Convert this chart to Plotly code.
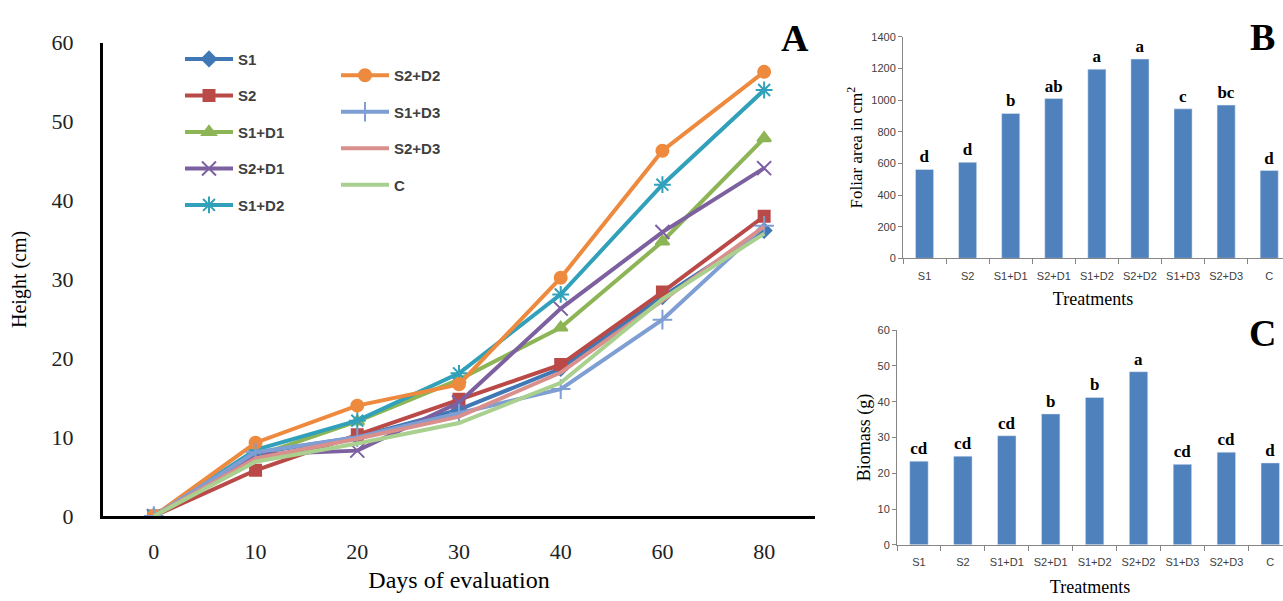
import plotly.graph_objects as go

W, H = 1283, 601

# ---------- Panel A data ----------
days = ["0", "10", "20", "30", "40", "60", "80"]
h_S1   = [0, 8.0, 10.0, 13.5, 18.7, 27.8, 36.2]
h_S2   = [0, 5.8, 10.3, 14.8, 19.2, 28.4, 38.0]
h_S1D1 = [0, 7.6, 12.0, 17.3, 23.9, 34.8, 47.9]
h_S2D1 = [0, 7.8, 8.3, 14.4, 26.3, 36.0, 44.1]
h_S1D2 = [0, 8.4, 12.1, 18.1, 28.1, 42.0, 54.0]
h_S2D2 = [0, 9.3, 14.0, 16.7, 30.2, 46.3, 56.3]
h_S1D3 = [0, 8.1, 10.0, 13.0, 16.1, 24.9, 36.8]
h_S2D3 = [0, 7.3, 9.8, 12.6, 18.2, 27.3, 36.7]
h_C    = [0, 6.9, 9.2, 11.8, 16.9, 27.5, 35.8]

# ---------- Panel B / C data ----------
treatments = ["S1", "S2", "S1+D1", "S2+D1", "S1+D2", "S2+D2", "S1+D3", "S2+D3", "C"]
foliar = [562, 607, 916, 1010, 1196, 1260, 945, 969, 555]
foliar_letters = ["d", "d", "b", "ab", "a", "a", "c", "bc", "d"]
biomass = [23.4, 24.8, 30.5, 36.6, 41.2, 48.4, 22.5, 25.9, 22.9]
biomass_letters = ["cd", "cd", "cd", "b", "b", "a", "cd", "cd", "d"]

def px(x):
    return x / W

def py(y):
    return 1 - y / H

series = [
    ("S1", h_S1, "#3F78B5", "diamond", 11, "legend"),
    ("S2", h_S2, "#B94A48", "square", 11, "legend"),
    ("S1+D1", h_S1D1, "#8DB555", "triangle-up", 12, "legend"),
    ("S2+D1", h_S2D1, "#7D60A0", "x-thin-open", 14, "legend"),
    ("S1+D2", h_S1D2, "#31A0BA", "asterisk-open", 14, "legend"),
    ("S2+D2", h_S2D2, "#EE8A3E", "circle", 12, "legend2"),
    ("S1+D3", h_S1D3, "#7E9ED4", "cross-thin-open", 14, "legend2"),
    ("S2+D3", h_S2D3, "#D9908C", None, 0, "legend2"),
    ("C", h_C, "#A9D08E", None, 0, "legend2"),
]

fig = go.Figure()
for name, vals, col, sym, size, leg in series:
    if sym is None:
        mode = "lines"
        marker = None
    else:
        mode = "lines+markers"
        marker = dict(symbol=sym, size=size, color=col, line=dict(color=col, width=2))
    fig.add_trace(go.Scatter(
        x=days, y=vals, name=name, mode=mode, marker=marker,
        line=dict(color=col, width=4), legend=leg, legendgroup=name,
        xaxis="x", yaxis="y",
    ))

bar_color = "#4F81BD"
letter_font = dict(family="Liberation Serif", size=17, color="black", weight="bold")
fig.add_trace(go.Bar(
    x=treatments, y=foliar, text=foliar_letters, textposition="outside",
    textfont=letter_font, constraintext="none", cliponaxis=False,
    marker=dict(color=bar_color), showlegend=False, xaxis="x2", yaxis="y2",
))
fig.add_trace(go.Bar(
    x=treatments, y=biomass, text=biomass_letters, textposition="outside",
    textfont=letter_font, constraintext="none", cliponaxis=False,
    marker=dict(color=bar_color), showlegend=False, xaxis="x3", yaxis="y3",
))

serif = "Liberation Serif"
sans = "Liberation Sans"
small_tick = dict(family=sans, size=11, color="#404040")

legend_common = dict(
    xanchor="left", yanchor="top", bgcolor="rgba(0,0,0,0)",
    font=dict(family=sans, size=15, color="#404040", weight="bold"),
    tracegroupgap=14, traceorder="grouped", itemwidth=48,
)

fig.update_layout(
    width=W, height=H, margin=dict(l=0, r=0, t=0, b=0),
    paper_bgcolor="white", plot_bgcolor="white",
    bargap=0.58,
    legend=dict(x=px(180), y=py(32), **legend_common),
    legend2=dict(x=px(336), y=py(49), **legend_common),
    xaxis=dict(
        domain=[px(103), px(815)], anchor="y", type="category", range=[-0.5, 6.5],
        showline=True, linecolor="black", linewidth=2.5, showgrid=False, zeroline=False,
        ticks="outside", ticklen=14, tickcolor="rgba(0,0,0,0)",
        tickfont=dict(family=serif, size=22, color="#222222"),
        title=dict(text="Days of evaluation", font=dict(family=serif, size=24, color="black"), standoff=8),
    ),
    yaxis=dict(
        domain=[py(526), py(32)], anchor="x", range=[0, 60], dtick=10,
        showline=True, linecolor="black", linewidth=3, showgrid=False, zeroline=False,
        ticks="outside", ticklen=22, tickcolor="rgba(0,0,0,0)",
        tickfont=dict(family=serif, size=22, color="#222222"),
        title=dict(text="Height (cm)", font=dict(family=serif, size=20, color="black"), standoff=20),
    ),
    xaxis2=dict(
        domain=[px(903), 1], anchor="y2", type="category", range=[-0.5, 8.32],
        showline=True, linecolor="#868686", linewidth=1, showgrid=False,
        ticks="outside", tickson="boundaries", ticklen=5, tickcolor="#868686",
        ticklabelstandoff=7, tickfont=small_tick,
        title=dict(text="Treatments", font=dict(family=serif, size=18, color="black"), standoff=11),
    ),
    yaxis2=dict(
        domain=[py(257), py(26)], anchor="x2", range=[0, 1400], dtick=200,
        showline=True, linecolor="#868686", linewidth=1, showgrid=False, zeroline=False,
        ticks="outside", ticklen=4, tickcolor="#868686",
        tickfont=small_tick,
        title=dict(text="Foliar area in cm<sup>2</sup>", font=dict(family=serif, size=17, color="black"), standoff=4),
    ),
    xaxis3=dict(
        domain=[px(897), 1], anchor="y3", type="category", range=[-0.5, 8.29],
        showline=True, linecolor="#868686", linewidth=1, showgrid=False,
        ticks="outside", tickson="boundaries", ticklen=5, tickcolor="#868686",
        ticklabelstandoff=7, tickfont=small_tick,
        title=dict(text="Treatments", font=dict(family=serif, size=18, color="black"), standoff=13),
    ),
    yaxis3=dict(
        domain=[py(556), py(332)], anchor="x3", range=[0, 60], dtick=10,
        showline=True, linecolor="#868686", linewidth=1, showgrid=False, zeroline=False,
        ticks="outside", ticklen=4, tickcolor="#868686",
        tickfont=small_tick,
        title=dict(text="Biomass (g)", font=dict(family=serif, size=18, color="black"), standoff=2),
    ),
)

panel_font = dict(family=serif, size=38, color="black", weight="bold")
for letter, x, y in [("A", 795, 27), ("B", 1262, 26), ("C", 1262, 335)]:
    fig.add_annotation(text=letter, x=px(x), y=py(y), xref="paper", yref="paper",
                       xanchor="center", yanchor="middle", showarrow=False, font=panel_font)

fig.write_html(
    "out.html",
    config={"displayModeBar": False},
    post_script="document.body.style.margin='0px';document.body.style.overflow='hidden';",
)
